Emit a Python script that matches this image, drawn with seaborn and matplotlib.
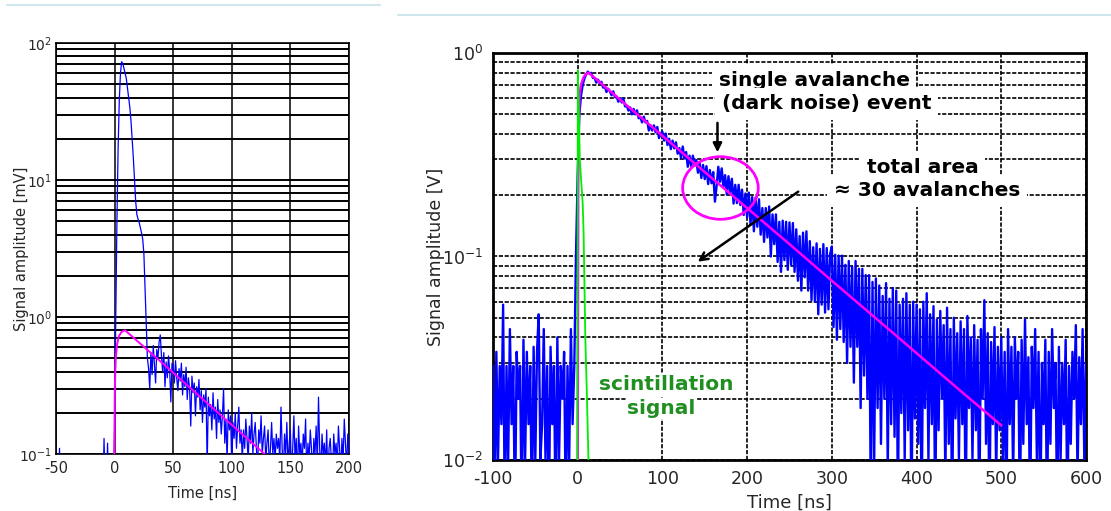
import numpy as np
import matplotlib
matplotlib.use("Agg")
import matplotlib.pyplot as plt
import seaborn as sns
from matplotlib.lines import Line2D
from matplotlib.patches import Ellipse
from matplotlib.ticker import LogLocator, NullFormatter, FixedLocator

sns.set_style("white")
plt.rcParams["font.family"] = ["DejaVu Sans"]
plt.rcParams["axes.unicode_minus"] = False

# ---- left panel: signal in mV, 1 ns sampling from -50 ns ----
left_pre_mv = [
    0.05, 0.05, 0.05, 0.11, 0.05, 0.05, 0.05, 0.05, 0.05, 0.05, 0.05, 0.05, 0.05,
    0.05, 0.05, 0.05, 0.05, 0.05, 0.05, 0.05, 0.05, 0.05, 0.05, 0.05, 0.05,
    0.05, 0.05, 0.05, 0.05, 0.05, 0.05, 0.05, 0.05, 0.05, 0.05, 0.05, 0.05, 0.05,
    0.05, 0.05, 0.05, 0.13, 0.05, 0.05, 0.12, 0.05, 0.05, 0.05, 0.05, 0.05,
]
left_peak_mv = [
    0.15, 1.0, 5.0, 17, 38, 60, 73, 71, 65, 60, 55, 47, 40, 34, 27, 20, 14.5,
    10, 7.0, 5.6, 5.2, 4.9, 4.5, 4.1, 3.7, 2.9, 1.6, 0.85, 0.5,
]
left_tail_mv = [
    0.42, 0.30, 0.55, 0.38, 0.62, 0.45, 0.33, 0.58, 0.50, 0.66, 0.74, 0.52, 0.40,
    0.55, 0.31, 0.47, 0.36, 0.52, 0.41, 0.24, 0.46,
    0.44, 0.33, 0.48, 0.36, 0.29, 0.42, 0.34, 0.46, 0.27, 0.38, 0.31, 0.43, 0.25,
    0.36, 0.30, 0.16, 0.37, 0.28, 0.33, 0.19, 0.31, 0.26, 0.35, 0.21, 0.29, 0.17,
    0.27, 0.22, 0.30, 0.08,
    0.26, 0.19, 0.23, 0.15, 0.28, 0.18, 0.22, 0.13, 0.25, 0.17, 0.21, 0.14, 0.19,
    0.30, 0.12, 0.18, 0.09, 0.21, 0.15, 0.19, 0.08, 0.17, 0.13, 0.20, 0.11, 0.16,
    0.22, 0.12, 0.15, 0.09,
    0.15, 0.11, 0.18, 0.13, 0.09, 0.16, 0.12, 0.20, 0.10, 0.14, 0.17, 0.11, 0.08,
    0.15, 0.12, 0.19, 0.10, 0.13, 0.16, 0.09, 0.12, 0.15, 0.08, 0.11, 0.17, 0.10,
    0.13, 0.09, 0.14, 0.11,
    0.13, 0.09, 0.22, 0.11, 0.07, 0.14, 0.10, 0.17, 0.08, 0.12, 0.15, 0.07, 0.11,
    0.19, 0.09, 0.13, 0.06, 0.16, 0.10, 0.12, 0.08, 0.14, 0.11, 0.18, 0.07, 0.12,
    0.09, 0.15, 0.11, 0.06, 0.13, 0.10, 0.16, 0.08, 0.26, 0.11, 0.07, 0.14, 0.10,
    0.12, 0.08, 0.15, 0.06, 0.11, 0.13, 0.09, 0.07, 0.14, 0.10, 0.12, 0.08, 0.16,
    0.11, 0.07, 0.13, 0.09, 0.18, 0.12, 0.08, 0.14, 0.10,
]
left_fit_t = [-0.3, 0.2, 1, 2, 3.5, 6, 9, 30, 50, 70, 90, 110, 128]
left_fit_mv = [0.09, 0.3, 0.5, 0.62, 0.72, 0.78, 0.80, 0.556, 0.392, 0.276, 0.194, 0.137, 0.100]

# ---- right panel: signal in mV, 2 ns sampling from -100 ns ----
right_pre_mv = [
    29, 5, 34, 10, 29, 15, 58, 5, 29, 10, 44, 15, 29, 5, 34, 20, 29, 5, 39, 10, 34, 15, 29, 5, 36,
    10, 34, 52, 10, 15, 44, 10, 29, 5, 36, 15, 29, 5, 40, 10, 29, 20, 34, 5, 29, 10, 44, 15, 29, 100,
]
right_pulse_mv = [
    250, 500, 620, 700, 750, 785, 810, 790, 799, 754, 753, 715, 740, 710, 722, 676, 686, 643, 667, 648, 620, 648, 607, 611, 576,
    600, 571, 595, 546, 550, 521, 540, 499, 531, 499, 523, 478, 484, 456, 487, 456, 464, 416, 442, 416, 441, 408, 433, 382, 404,
    410, 371, 402, 353, 379, 337, 371, 340, 364, 320, 341, 305, 347, 303, 326, 276, 313, 278, 313, 279, 298, 258, 287, 243, 282,
    240, 278, 227, 266, 229, 260, 186, 222, 276, 233, 271, 220, 251, 202, 248, 206, 241, 182, 225, 183, 225, 179, 213, 160, 204,
    156, 206, 144, 196, 133, 195, 140, 191, 128, 173, 118, 173, 124, 176, 100, 161, 115, 161, 94, 148, 84, 150, 96, 148, 86,
    147, 91, 146, 84, 136, 76, 126, 68, 131, 79, 133, 68, 119, 61, 111, 60, 116, 52, 109, 58, 115, 53, 110, 55, 103,
    112, 45, 102, 39, 101, 44, 101, 38, 91, 30, 95, 36, 89, 24, 95, 36, 87, 18, 87, 26, 81, 20, 81, 6, 75,
    10, 78, 18, 72, 12, 64, 20, 74, 9, 62, 15, 70, 13, 68, 6, 58, 17, 62, 10, 66, 14, 58, 5, 60, 16,
    58, 12, 55, 5, 60, 18, 66, 10, 52, 15, 57, 5, 49, 14, 54, 20, 46, 8, 56, 12, 44, 5, 50, 16, 42,
    10, 48, 15, 44, 5, 51, 18, 40, 10, 46, 14, 39, 5, 44, 20, 61, 12, 42, 5, 38, 15, 45, 8, 36, 14,
    40, 10, 34, 5, 44, 15, 36, 8, 40, 20, 34, 5, 39, 12, 49, 15, 32, 5, 36, 18, 44, 10, 34, 5, 30,
    15, 39, 5, 34, 12, 44, 18, 30, 5, 36, 10, 30, 15, 39, 5, 29, 12, 34, 20, 46, 8, 32, 15, 44, 10, 30,
]
right_fit_t = [0, 0.6, 1.2, 2.2, 4, 7, 10, 13, 50, 100, 150, 200, 250, 300, 350, 400, 450, 500]
right_fit_v = [0.005, 0.2, 0.45, 0.62, 0.70, 0.76, 0.79, 0.80, 0.590, 0.392, 0.260, 0.173,
               0.115, 0.076, 0.0505, 0.0335, 0.0222, 0.0148]
scint_t = [-0.5, 0.2, 1.2, 2.5, 4, 6, 7, 8.3, 9, 11, 13]
scint_v = [0.004, 0.82, 0.55, 0.30, 0.24, 0.18, 0.13, 0.061, 0.04, 0.02, 0.009]

left_mv = np.array(left_pre_mv + left_peak_mv + left_tail_mv)
left_t = -50 + np.arange(len(left_mv))
right_v = np.array(right_pre_mv + right_pulse_mv) / 1000.0
right_t = -100 + 2 * np.arange(len(right_v))

fig = plt.figure(figsize=(11.11, 5.11), dpi=100)

# slide decoration lines
fig.add_artist(Line2D([7 / 1111, 380 / 1111], [1 - 5.5 / 511] * 2, color="#cfe6ec", lw=1.5))
fig.add_artist(Line2D([398 / 1111, 1.0], [1 - 15 / 511] * 2, color="#cfe6ec", lw=1.5))

# ---------------- left panel ----------------
ax1 = fig.add_axes([0.0504, 0.1115, 0.2637, 0.8043])
sns.lineplot(x=left_t, y=left_mv, ax=ax1, color="#0000ff", linewidth=0.9,
             estimator=None, sort=False, zorder=3)
sns.lineplot(x=left_fit_t, y=left_fit_mv, ax=ax1, color="#ff00ff", linewidth=1.4,
             estimator=None, sort=False, zorder=4)
ax1.set_yscale("log")
ax1.set_xlim(-50, 200)
ax1.set_ylim(0.1, 100)
ax1.xaxis.set_major_locator(FixedLocator([-50, 0, 50, 100, 150, 200]))
ax1.yaxis.set_major_locator(LogLocator(base=10))
ax1.yaxis.set_minor_locator(LogLocator(base=10, subs=range(2, 10)))
ax1.yaxis.set_minor_formatter(NullFormatter())
ax1.grid(True, axis="y", which="both", color="black", lw=1.4, ls="-")
ax1.grid(True, axis="x", which="major", color="black", lw=1.1, ls="-")
ax1.set_axisbelow(True)
ax1.tick_params(axis="x", which="both", length=0, labelsize=10.5, pad=5)
ax1.tick_params(axis="y", which="both", length=0, labelsize=10, pad=3)
for s in ax1.spines.values():
    s.set_color("black")
    s.set_linewidth(1.2)
ax1.set_xlabel("Time [ns]", fontsize=10.5, labelpad=7)
ax1.set_ylabel("Signal amplitude [mV]", fontsize=10.5)
ax1.yaxis.set_label_coords(-0.092, 0.5)

# ---------------- right panel ----------------
ax2 = fig.add_axes([0.4437, 0.0998, 0.5338, 0.7965])
sns.lineplot(x=right_t, y=right_v, ax=ax2, color="#0000ff", linewidth=1.7,
             estimator=None, sort=False, zorder=3)
sns.lineplot(x=right_fit_t, y=right_fit_v, ax=ax2, color="#ff00ff", linewidth=1.8,
             estimator=None, sort=False, zorder=4)
sns.lineplot(x=scint_t, y=scint_v, ax=ax2, color="#00ee00", linewidth=1.3,
             estimator=None, sort=False, zorder=5)
ax2.set_yscale("log")
ax2.set_xlim(-100, 600)
ax2.set_ylim(0.01, 1)
ax2.xaxis.set_major_locator(FixedLocator(list(range(-100, 601, 100))))
ax2.yaxis.set_major_locator(LogLocator(base=10))
ax2.yaxis.set_minor_locator(LogLocator(base=10, subs=range(2, 10)))
ax2.yaxis.set_minor_formatter(NullFormatter())
dash = (0, (2.5, 1.0))
ax2.grid(True, axis="y", which="both", color="black", lw=1.2, ls=dash)
ax2.grid(True, axis="x", which="major", color="black", lw=1.2, ls=dash)
ax2.set_axisbelow(True)
ax2.tick_params(which="both", length=0, labelsize=12.5, pad=7)
for s in ax2.spines.values():
    s.set_color("black")
    s.set_linewidth(2.0)
ax2.set_xlabel("Time [ns]", fontsize=13, labelpad=4)
ax2.set_ylabel("Signal amplitude [V]", fontsize=12.5)
ax2.yaxis.set_label_coords(-0.081, 0.5)

box = dict(fc="white", ec="none", pad=5)
note = dict(fontsize=14.5, fontweight="bold", ha="center", va="center", zorder=6, bbox=box)
ax2.text(279, 0.736, "single avalanche", color="black", **note)
ax2.text(294, 0.562, "(dark noise) event", color="black", **note)
ax2.text(407, 0.273, "total area", color="black", **note)
ax2.text(412, 0.210, "≈ 30 avalanches", color="black", **note)
green = dict(fontsize=14.5, fontweight="bold", ha="center", va="center", zorder=6,
             color="#1f8f1f", bbox=dict(fc="white", ec="none", pad=1))
ax2.text(104, 0.0234, "scintillation", **green)
ax2.text(99, 0.0179, "signal", **green)

ax2.annotate("", xy=(165, 0.315), xytext=(165, 0.468),
             arrowprops=dict(arrowstyle="-|>", color="black", lw=1.8, mutation_scale=13), zorder=7)
ax2.annotate("", xy=(139, 0.0926), xytext=(263, 0.212),
             arrowprops=dict(arrowstyle="->", color="black", lw=1.8, mutation_scale=14), zorder=7)
ax2.add_patch(Ellipse((0.3836, 0.6683), 0.1275, 0.1538, transform=ax2.transAxes,
                      fill=False, ec="#ff00ff", lw=2.0, zorder=7))

fig.savefig("out.png", dpi=100)
